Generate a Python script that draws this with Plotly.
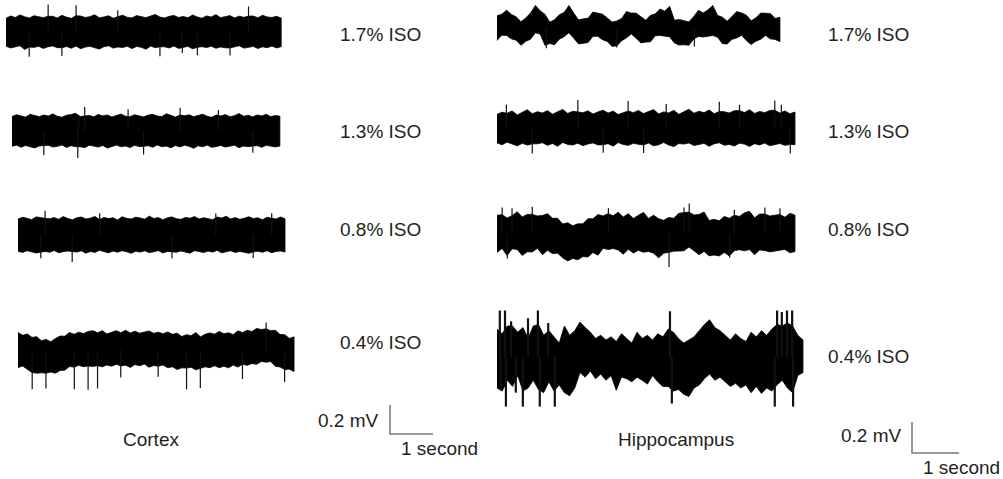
import numpy as np
import plotly.graph_objects as go

# ---------------- data (µV envelope per time bin + thin spikes) ----------------
iso_labels = ["1.7% ISO", "1.3% ISO", "0.8% ISO", "0.4% ISO"]
region_labels = ["Cortex", "Hippocampus"]
scale_uv = 200      # 0.2 mV
scale_s = 1         # 1 second

# recording durations shown (s)
ctx_duration = [6.40, 6.23, 6.21, 6.42]
hip_duration = [6.02, 6.34, 6.34, 6.51]

# Cortex 1.7 %
ctx17_hi = [95,110,100,118,105,96,112,104,99,108,108,97,115,102,94,112,110,100,106,119,98,104,112,95,108,116,101,97,113,105,
            99,110,121,103,96,108,114,100,107,98,117,104,95,111,103,120,99,106,113,97,109,101,110,110,98,115,104,100,108,96]
ctx17_lo = [-98,-110,-104,-95,-120,-104,-106,-99,-113,-102,-96,-108,-108,-100,-112,-97,-115,-104,-99,-109,-118,-101,-95,-111,-103,-107,-98,-114,-100,-105,
            -119,-97,-108,-102,-102,-110,-96,-113,-104,-99,-116,-106,-101,-107,-98,-112,-103,-109,-110,-100,-95,-111,-106,-99,-114,-102,-108,-97,-110,-101]
ctx17_spk_t = [0.98, 1.63, 5.64, 0.54, 1.30, 3.58, 4.45, 5.21, 2.60, 4.10]
ctx17_spk_v = [190, 185, 176, -170, -165, -168, -160, -162, 150, -145]
# Cortex 1.3 %
ctx13_hi = [100,112,104,96,115,108,99,110,103,118,101,95,109,113,122,100,104,107,98,114,104,111,96,108,117,102,99,112,106,97,
            110,115,103,100,119,108,96,110,105,112,99,107,116,101,94,110,104,113,98,106,120,102,109,97,111,104,115,99,107,102]
ctx13_lo = [-105,-98,-112,-100,-108,-117,-103,-103,-99,-110,-106,-96,-113,-101,-108,-108,-115,-98,-104,-111,-100,-118,-105,-97,-109,-103,-114,-99,-107,-106,
            -101,-112,-96,-108,-104,-116,-100,-110,-98,-106,-119,-102,-109,-97,-113,-104,-100,-111,-107,-98,-115,-103,-108,-104,-101,-112,-99,-106,-110,-104]
ctx13_spk_t = [1.69, 3.91, 1.55, 0.74, 1.53, 3.06, 5.60, 2.70, 4.80]
ctx13_spk_v = [165, 160, 110, -165, -186, -162, -150, 150, 145]
# Cortex 0.8 %
ctx08_hi = [110,122,115,106,125,118,115,112,120,108,127,114,105,119,124,111,116,128,107,121,113,119,104,126,115,110,123,117,109,130,
            114,120,106,118,125,112,108,121,116,127,110,119,113,106,124,117,129,111,120,108,115,126,113,119,105,122,116,110,124,112]
ctx08_lo = [-112,-120,-108,-116,-124,-118,-113,-119,-107,-122,-115,-110,-112,-118,-109,-125,-114,-120,-106,-117,-123,-111,-119,-108,-115,-126,-112,-118,-109,-121,
            -116,-107,-124,-113,-115,-119,-110,-117,-125,-108,-114,-121,-111,-118,-106,-123,-115,-109,-120,-113,-117,-126,-116,-112,-119,-108,-122,-114,-110,-118]
ctx08_spk_t = [0.63, 0.53, 1.26, 3.58, 5.47, 1.90, 4.60, 5.90]
ctx08_spk_v = [168, -160, -186, -160, -158, 150, 148, 150]
# Cortex 0.4 %
ctx04_hi = [120,102,110,87,92,64,73,57,79,96,95,121,108,123,113,128,133,119,133,111,122,133,119,136,117,130,116,126,131,115,
            123,112,124,108,116,93,106,99,120,91,109,118,109,128,112,119,106,132,120,136,127,149,141,146,133,136,107,106,80,91]
ctx04_lo = [-121,-111,-134,-155,-160,-157,-160,-152,-160,-141,-139,-114,-118,-106,-115,-110,-113,-108,-116,-103,-112,-98,-110,-105,-120,-100,-109,-97,-119,-107,
            -112,-103,-122,-116,-134,-123,-125,-119,-137,-128,-116,-122,-108,-122,-112,-123,-104,-118,-98,-106,-93,-99,-79,-84,-80,-112,-117,-135,-132,-148]
ctx04_spk_t = [5.77, 0.33, 0.65, 1.31, 1.63, 1.85, 2.39, 3.26, 3.92, 4.24, 5.22, 6.20]
ctx04_spk_v = [190, -270, -265, -270, -275, -265, -190, -185, -272, -262, -200, -220]

# Hippocampus 1.7 %
hip17_hi = [79,89,115,87,72,41,65,97,145,111,88,38,53,86,100,145,96,52,59,63,103,94,89,65,38,45,62,106,96,96,
            73,50,82,91,123,108,140,50,55,49,39,73,114,97,117,145,81,70,43,75,106,97,83,46,66,97,95,93,62,69]
hip17_lo = [-80,-47,-48,-70,-79,-112,-86,-72,-31,-39,-112,-100,-108,-72,-56,-30,-66,-103,-98,-94,-54,-54,-75,-87,-119,-115,-82,-63,-38,-66,
            -96,-91,-89,-50,-48,-52,-57,-97,-110,-108,-111,-71,-55,-58,-51,-48,-59,-101,-104,-73,-64,-47,-81,-107,-85,-72,-48,-70,-74,-88]
hip17_spk_t = [1.05, 4.20, 2.55]
hip17_spk_v = [-130, -120, -125]
# Hippocampus 1.3 %
hip13_hi = [88,102,95,110,84,99,118,92,105,97,112,89,103,120,94,108,104,98,111,90,104,115,96,109,87,101,110,99,113,93,
            106,119,91,104,97,114,88,102,121,95,108,99,116,92,106,105,97,112,112,100,118,94,107,99,113,115,96,110,92,103]
hip13_lo = [-96,-108,-91,-104,-115,-99,-110,-102,-102,-95,-112,-100,-118,-93,-106,-110,-98,-114,-103,-96,-109,-108,-101,-117,-94,-107,-112,-99,-105,-110,
            -97,-115,-108,-93,-110,-120,-100,-104,-96,-113,-107,-99,-118,-102,-95,-111,-106,-116,-98,-104,-119,-101,-109,-97,-114,-105,-100,-112,-106,-108]
hip13_spk_t = [1.72, 2.79, 4.73, 5.16, 5.91, 0.20, 3.60, 6.05, 0.75, 2.26, 3.12, 6.24]
hip13_spk_v = [180, 175, 170, 150, 178, 150, 155, 150, -165, -160, -162, -165]
# Hippocampus 0.8 %
hip08_hi = [115,118,97,112,137,104,120,120,110,113,125,95,95,58,66,47,59,59,92,92,119,110,125,111,134,103,125,93,115,133,
            94,115,92,82,100,95,127,130,135,116,120,135,81,88,79,107,95,115,107,130,140,98,122,122,110,115,120,102,127,115]
hip08_lo = [-125,-100,-145,-102,-106,-145,-121,-122,-99,-140,-112,-133,-130,-160,-180,-164,-173,-152,-155,-126,-143,-99,-107,-100,-109,-137,-105,-129,-112,-124,
            -119,-130,-160,-130,-125,-117,-116,-115,-91,-114,-140,-119,-147,-142,-148,-125,-148,-114,-108,-115,-107,-140,-109,-113,-122,-116,-111,-106,-128,-120]
hip08_spk_t = [0.11, 0.32, 0.75, 2.37, 3.98, 4.09, 5.05, 5.70, 6.02, 3.66, 0.22, 4.95]
hip08_spk_v = [165, 160, 170, 160, 165, 190, 150, 165, 160, -220, -165, -160]
# Hippocampus 0.4 %
hip04_hi = [180,150,200,200,160,190,120,200,210,140,170,130,90,200,140,170,225,190,160,120,140,110,130,100,150,120,90,160,120,140,
            110,150,130,180,160,120,90,110,130,170,210,240,190,170,140,110,150,120,100,160,130,170,140,180,210,200,220,200,140,110]
hip04_lo = [-200,-220,-150,-190,-120,-220,-200,-150,-210,-230,-160,-220,-180,-230,-250,-200,-100,-130,-90,-140,-110,-150,-120,-215,-130,-140,-160,-130,-150,-175,
            -120,-160,-190,-190,-220,-210,-240,-255,-200,-180,-140,-110,-150,-130,-160,-190,-170,-200,-180,-230,-190,-235,-200,-220,-180,-150,-200,-230,-120,-100]
hip04_spk_t = [0.06, 0.17, 0.30, 0.66, 0.87, 1.09, 3.68, 5.96, 6.06, 6.17, 6.28,
               0.08, 0.19, 0.40, 0.55, 0.91, 1.23, 3.72, 5.91, 6.30]
hip04_spk_v = [300, 300, 230, 250, 300, 219, 295, 300, 290, 300, 300,
               -210, -320, -230, -320, -320, -320, -300, -320, -320]

ctx_hi = [ctx17_hi, ctx13_hi, ctx08_hi, ctx04_hi]
ctx_lo = [ctx17_lo, ctx13_lo, ctx08_lo, ctx04_lo]
ctx_spk_t = [ctx17_spk_t, ctx13_spk_t, ctx08_spk_t, ctx04_spk_t]
ctx_spk_v = [ctx17_spk_v, ctx13_spk_v, ctx08_spk_v, ctx04_spk_v]
hip_hi = [hip17_hi, hip13_hi, hip08_hi, hip04_hi]
hip_lo = [hip17_lo, hip13_lo, hip08_lo, hip04_lo]
hip_spk_t = [hip17_spk_t, hip13_spk_t, hip08_spk_t, hip04_spk_t]
hip_spk_v = [hip17_spk_v, hip13_spk_v, hip08_spk_v, hip04_spk_v]

# ---------------- layout geometry ----------------
W, H = 1003, 479
CTX_PX_S, CTX_PX_UV = 43.0, 0.145
HIP_PX_S, HIP_PX_UV = 47.0, 0.155

ctx_x0 = [6, 12, 18, 18]
ctx_cy = [32, 131, 235, 350]
hip_x0 = [497, 497, 497, 497]
hip_cy = [28, 128, 233, 357]
hip_spike_w = [1.2, 1.2, 1.2, 2.2]

fig = go.Figure()


def add_env(hi, lo, dur, x0, cy, pxs, pxu, xa, ya):
    n = len(hi)
    t = x0 / pxs + np.linspace(0, dur, n)
    base = -cy / pxu
    xs = np.concatenate([t, t[::-1]])
    ys = np.concatenate([base + np.array(hi, float), (base + np.array(lo, float))[::-1]])
    fig.add_trace(go.Scatter(x=xs, y=ys, mode="lines", fill="toself", fillcolor="black",
                             line=dict(color="black", width=0.8), xaxis=xa, yaxis=ya,
                             hoverinfo="skip", showlegend=False))


def add_spikes(ts, vs, x0, cy, pxs, pxu, xa, ya, w):
    base = -cy / pxu
    xs, ys = [], []
    for t, v in zip(ts, vs):
        xs += [x0 / pxs + t, x0 / pxs + t, None]
        ys += [base, base + v, None]
    fig.add_trace(go.Scatter(x=xs, y=ys, mode="lines", line=dict(color="#111111", width=w),
                             xaxis=xa, yaxis=ya, hoverinfo="skip", showlegend=False))


for i in range(4):
    add_env(ctx_hi[i], ctx_lo[i], ctx_duration[i], ctx_x0[i], ctx_cy[i], CTX_PX_S, CTX_PX_UV, "x", "y")
    add_spikes(ctx_spk_t[i], ctx_spk_v[i], ctx_x0[i], ctx_cy[i], CTX_PX_S, CTX_PX_UV, "x", "y", 1.2)
    add_env(hip_hi[i], hip_lo[i], hip_duration[i], hip_x0[i], hip_cy[i], HIP_PX_S, HIP_PX_UV, "x2", "y2")
    add_spikes(hip_spk_t[i], hip_spk_v[i], hip_x0[i], hip_cy[i], HIP_PX_S, HIP_PX_UV, "x2", "y2", hip_spike_w[i])


def scale_bar(cx, cy, pxs, pxu, xa, ya):
    x0 = cx / pxs
    y0 = -cy / pxu
    fig.add_trace(go.Scatter(x=[x0, x0, x0 + scale_s], y=[y0 + scale_uv, y0, y0], mode="lines",
                             line=dict(color="#777777", width=1.5), xaxis=xa, yaxis=ya,
                             hoverinfo="skip", showlegend=False))


scale_bar(390, 434, CTX_PX_S, CTX_PX_UV, "x", "y")
scale_bar(912, 453, HIP_PX_S, HIP_PX_UV, "x2", "y2")

FONT = dict(family="Liberation Sans, Arial, sans-serif", size=19, color="#231f20")
ann = []


def text(s, px, py, anchor):
    ann.append(dict(text=s, x=px / W, y=1 - py / H, xref="paper", yref="paper", xanchor=anchor,
                    yanchor="middle", showarrow=False, font=FONT))


ctx_label_y = [35, 131, 230, 342]
hip_label_y = [35, 131, 230, 356]
for i, lab in enumerate(iso_labels):
    text(lab, 338, ctx_label_y[i], "left")
    text(lab, 826, hip_label_y[i], "left")

text(region_labels[0], 151, 439, "center")
text(region_labels[1], 676, 439, "center")
text("0.2 mV", 381, 420, "right")
text("1 second", 399, 448, "left")
text("0.2 mV", 904, 435, "right")
text("1 second", 921, 467, "left")

ax = dict(visible=False, showgrid=False, zeroline=False, fixedrange=True)
fig.update_layout(
    width=W, height=H, autosize=False, margin=dict(l=0, r=0, t=0, b=0),
    paper_bgcolor="white", plot_bgcolor="white", showlegend=False,
    xaxis=dict(range=[0, W / CTX_PX_S], domain=[0, 1], **ax),
    yaxis=dict(range=[-H / CTX_PX_UV, 0], domain=[0, 1], **ax),
    xaxis2=dict(range=[0, W / HIP_PX_S], domain=[0, 1], overlaying="x", anchor="y2", **ax),
    yaxis2=dict(range=[-H / HIP_PX_UV, 0], domain=[0, 1], overlaying="y", anchor="x2", **ax),
    annotations=ann,
)

fig.write_html("out.html", config={"displayModeBar": False},
               post_script="document.body.style.margin='0';document.body.style.overflow='hidden';")
